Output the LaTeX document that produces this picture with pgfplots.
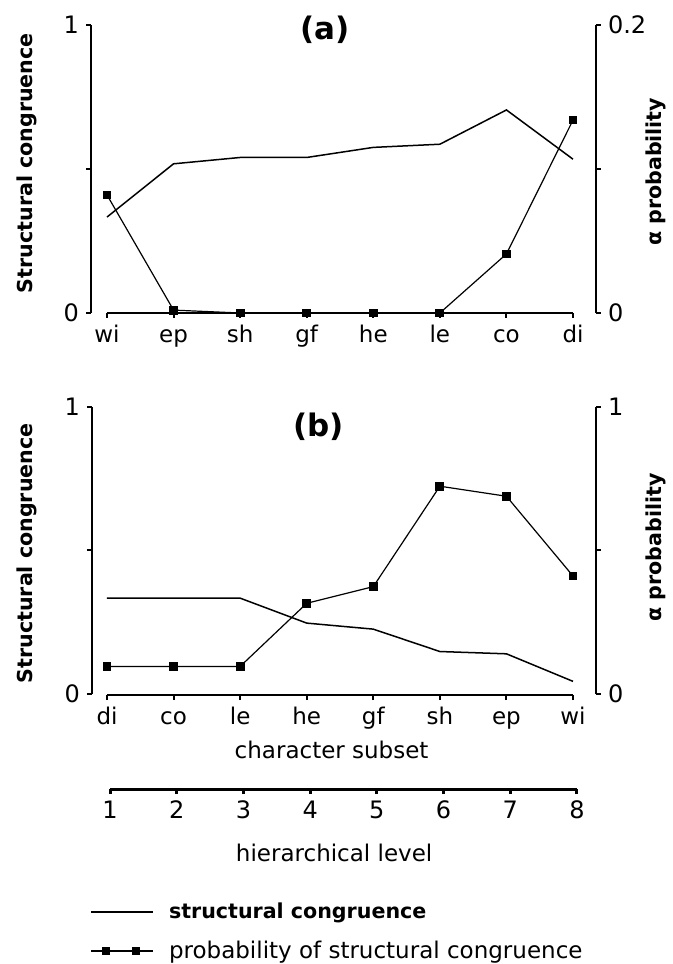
\documentclass[border=0pt]{standalone}
\usepackage{pgfplots}
\pgfplotsset{compat=1.18}
\usepackage{fontspec}
\setmainfont{DejaVu Sans}
\newcommand{\tickfont}{\fontsize{12}{14}\selectfont}
\newcommand{\catfont}{\fontsize{11.5}{13}\selectfont}
\newcommand{\labfont}{\bfseries\fontsize{10.3}{12}\selectfont}
\newcommand{\ttlfont}{\bfseries\fontsize{15.5}{18}\selectfont}
\begin{document}
\begin{tikzpicture}[x=1pt,y=1pt]
\path[use as bounding box] (0,0) rectangle (336.5,482);
\pgfplotsset{
  every axis/.append style={scale only axis, clip=false,
    /pgf/number format/assume math mode=true,
    tick align=outside, major tick length=2.5pt,
    every tick/.append style={black, line width=1pt},
    axis line style={line width=1pt},
    ticklabel style={font=\tickfont},
    every axis title shift=0pt,
  },
  struct/.style={black, line width=0.75pt, no marks},
  prob/.style={black, line width=0.6pt, mark=square*, mark size=1.9pt, mark options={solid}},
  catlabels/.style={xticklabel style={font=\catfont, text height=8.7pt, text depth=2.7pt}},
}
% ---------------- panel (a)
\begin{axis}[at={(45.5pt,325.5pt)}, anchor=south west, width=252.5pt, height=144pt,
  xmin=0.760, xmax=8.345, ymin=0, ymax=1,
  axis x line=none, axis y line*=left,
  ytick={0,0.5,1}, yticklabels={0,,1},
  ylabel={Structural congruence},
  ylabel style={at={(axis description cs:-0.127,0.52)}, anchor=center, font=\labfont},
  title={(a)}, title style={at={(axis description cs:0.463,0.983)}, anchor=center, font=\ttlfont}]
\addplot[struct] coordinates {(1,0.333) (2,0.518) (3,0.540) (4,0.540) (5,0.575) (6,0.586) (7,0.705) (8,0.534)};
\end{axis}
\begin{axis}[at={(45.5pt,325.5pt)}, anchor=south west, width=252.5pt, height=144pt,
  xmin=0.760, xmax=8.345, ymin=0, ymax=0.2,
  axis x line=none, axis y line*=right,
  ytick={0,0.1,0.2}, yticklabels={0,,0.2},
  ylabel={α probability},
  ylabel style={at={(axis description cs:1.119,0.49)}, anchor=center, font=\labfont}]
\addplot[prob] coordinates {(1,0.082) (2,0.002) (3,0) (4,0) (5,0) (6,0) (7,0.041) (8,0.134)};
\end{axis}
\begin{axis}[at={(53.5pt,325.5pt)}, anchor=south west, width=233pt, height=144pt,
  xmin=1, xmax=8, ymin=0, ymax=1,
  axis y line=none, axis x line*=bottom,
  xtick={1,2,3,4,5,6,7,8}, xticklabels={wi,ep,sh,gf,he,le,co,di},
  catlabels]
\end{axis}
% ---------------- panel (b)
\begin{axis}[at={(46pt,135pt)}, anchor=south west, width=252pt, height=143.5pt,
  xmin=0.775, xmax=8.345, ymin=0, ymax=1,
  axis x line=none, axis y line*=left,
  ytick={0,0.5,1}, yticklabels={0,,1},
  ylabel={Structural congruence},
  ylabel style={at={(axis description cs:-0.129,0.49)}, anchor=center, font=\labfont},
  title={(b)}, title style={at={(axis description cs:0.450,0.930)}, anchor=center, font=\ttlfont}]
\addplot[struct] coordinates {(1,0.334) (2,0.334) (3,0.334) (4,0.247) (5,0.226) (6,0.148) (7,0.140) (8,0.044)};
\end{axis}
\begin{axis}[at={(46pt,135pt)}, anchor=south west, width=252pt, height=143.5pt,
  xmin=0.775, xmax=8.345, ymin=0, ymax=1,
  axis x line=none, axis y line*=right,
  ytick={0,0.5,1}, yticklabels={0,,1},
  ylabel={α probability},
  ylabel style={at={(axis description cs:1.119,0.51)}, anchor=center, font=\labfont}]
\addplot[prob] coordinates {(1,0.096) (2,0.096) (3,0.096) (4,0.316) (5,0.374) (6,0.724) (7,0.689) (8,0.411)};
\end{axis}
\begin{axis}[at={(53.5pt,134.5pt)}, anchor=south west, width=233pt, height=143.5pt,
  xmin=1, xmax=8, ymin=0, ymax=1,
  axis y line=none, axis x line*=bottom,
  xtick={1,2,3,4,5,6,7,8}, xticklabels={di,co,le,he,gf,sh,ep,wi},
  catlabels,
  xlabel={character subset},
  xlabel style={at={(axis description cs:0.482,-0.1916)}, anchor=center, font=\catfont}]
\end{axis}
% ---------------- hierarchical level axis + legend
\begin{axis}[at={(55pt,87.5pt)}, anchor=south west, width=233.5pt, height=10pt,
  xmin=1, xmax=8, ymin=0, ymax=1,
  axis y line=none, axis x line*=bottom,
  axis line style={line width=1.5pt},
  every tick/.append style={line width=1.5pt},
  xtick={1,2,3,4,5,6,7,8},
  xlabel={hierarchical level},
  xlabel style={at={(axis description cs:0.48,-3.2)}, anchor=center, font=\catfont},
  legend style={at={(axis description cs:-0.0428,-5.65)}, anchor=north west,
    draw=none, fill=none, inner sep=0pt, row sep=10pt,
    nodes={inner sep=0pt, anchor=west},
    /tikz/every odd column/.append style={column sep=7.5pt}},
  legend cell align=left]
\addlegendimage{legend image code/.code={\draw[black, line width=0.8pt] (0pt,0pt) -- (31pt,0pt);}}
\addlegendentry{\labfont structural congruence}
\addlegendimage{legend image code/.code={\draw[black, line width=0.8pt] (0pt,0pt) -- (31pt,0pt);
  \fill[black] (5.7pt,-1.8pt) rectangle (9.3pt,1.8pt);
  \fill[black] (20.7pt,-1.8pt) rectangle (24.3pt,1.8pt);}}
\addlegendentry{\fontsize{11.5}{13}\selectfont probability of structural congruence}
\end{axis}
\end{tikzpicture}
\end{document}
